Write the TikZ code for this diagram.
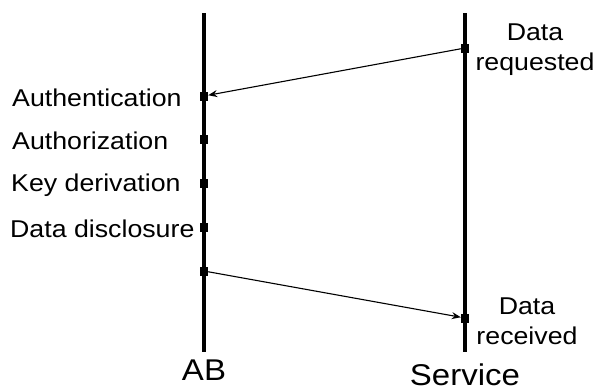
\documentclass[tikz,border=0pt]{standalone}
\usepackage{fontspec}
\setmainfont{Liberation Sans}[FakeStretch=1.1]
\usetikzlibrary{arrows.meta}
\begin{document}
\begin{tikzpicture}[x=1pt,y=-1pt,
  lifeline/.style={line width=3.6pt},
  tick/.style={fill=black,inner sep=0pt,minimum width=8pt,minimum height=9pt},
  msg/.style={line width=1.1pt,-{Stealth[length=9pt,width=7pt]}},
  evt/.style={anchor=west,inner sep=0pt,font=\fontsize{24.3}{29}\selectfont},
  note/.style={align=center,inner sep=0pt,font=\fontsize{24.3}{30}\selectfont},
  actor/.style={inner sep=0pt,font=\fontsize{30}{36}\selectfont}]
\useasboundingbox (0,0) rectangle (595,391);
% lifelines
\coordinate (abtop) at (204,13);
\coordinate (abbot) at (204,352);
\coordinate (svtop) at (465,13);
\coordinate (svbot) at (465,352);
\draw[lifeline] (abtop) -- (abbot);
\draw[lifeline] (svtop) -- (svbot);
% event markers
\node[tick] (auth) at (204,96) {};
\node[tick] (authz) at (204,139) {};
\node[tick] (kdf) at (204,183) {};
\node[tick] (disc) at (204,227) {};
\node[tick] (send) at (204,271) {};
\node[tick] (req) at (465,48) {};
\node[tick] (recv) at (465,318) {};
% messages
\draw[msg] (req) -- (auth);
\draw[msg] (send) -- (recv);
% labels
\node[evt] (lauth) at (12,98) {Authentication};
\node[evt] (lauthz) at (12,141) {Authorization};
\node[evt] (lkdf) at (11,185) {Key derivation};
\node[evt] (ldisc) at (10,229) {Data disclosure};
\node[note] (lreq) at (535,50) {Data\\requested};
\node[note] (lrecv) at (527,321) {Data\\received};
\node[actor] (lab) at (204,370) {AB};
\node[actor] (lsv) at (465,375) {Service};
\end{tikzpicture}
\end{document}
